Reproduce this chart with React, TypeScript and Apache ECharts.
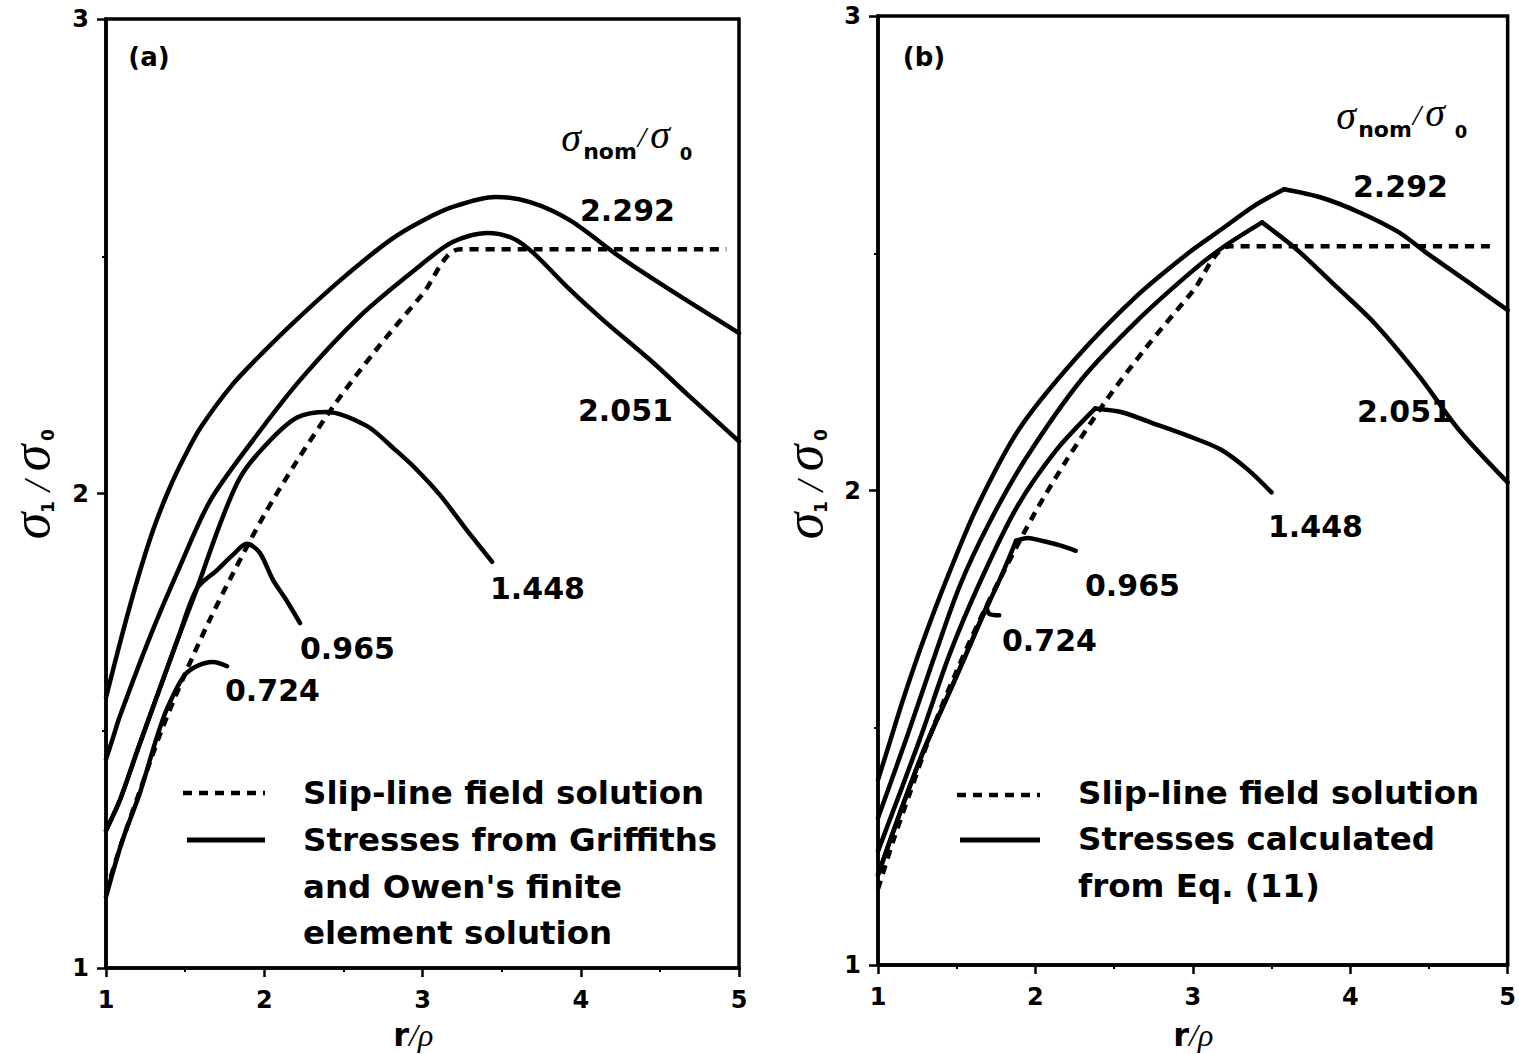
import React, { useEffect, useRef } from "react";
import * as echarts from "echarts";

// ---------- axis ticks ----------
const X_MIN = 1;
const X_MAX = 5;
const Y_MIN = 1;
const Y_MAX = 3;

// ---------- slip-line field solution (same in both panels) ----------
const SLIP_X = [1.0, 1.1, 1.2, 1.35, 1.5, 1.65, 1.8, 2.0, 2.2, 2.45, 2.7, 3.0, 3.24, 4.92];
const SLIP_Y = [1.16, 1.265, 1.36, 1.5, 1.62, 1.73, 1.83, 1.955, 2.065, 2.19, 2.3, 2.42, 2.515, 2.515];

// ---------- panel (a): Griffiths & Owen FE ----------
const A_2292_X = [1.0, 1.1, 1.2, 1.3, 1.4, 1.5, 1.6, 1.8, 2.0, 2.2, 2.5, 2.8, 3.0, 3.2, 3.46, 3.68, 3.93, 4.25, 4.56, 5.0];
const A_2292_Y = [1.57, 1.7, 1.82, 1.925, 2.01, 2.08, 2.14, 2.23, 2.3, 2.365, 2.455, 2.535, 2.575, 2.605, 2.625, 2.614, 2.576, 2.498, 2.43, 2.338];

const A_2051_X = [1.0, 1.044, 1.088, 1.278, 1.468, 1.657, 1.91, 2.226, 2.605, 2.984, 3.19, 3.41, 3.57, 3.7, 3.93, 4.14, 4.46, 4.67, 5.0];
const A_2051_Y = [1.44, 1.485, 1.531, 1.698, 1.847, 1.984, 2.104, 2.239, 2.374, 2.48, 2.53, 2.549, 2.538, 2.507, 2.43, 2.366, 2.275, 2.21, 2.11];

const A_1448_X = [1.0, 1.088, 1.2, 1.33, 1.45, 1.575, 1.72, 1.85, 2.017, 2.207, 2.397, 2.65, 2.814, 2.94, 3.11, 3.27, 3.44];
const A_1448_Y = [1.29, 1.354, 1.46, 1.58, 1.69, 1.8, 1.935, 2.035, 2.105, 2.16, 2.172, 2.142, 2.096, 2.058, 1.997, 1.927, 1.856];

const A_0965_X = [1.0, 1.088, 1.2, 1.33, 1.45, 1.575, 1.7, 1.8, 1.89, 1.97, 2.055, 2.14, 2.226];
const A_0965_Y = [1.29, 1.354, 1.46, 1.58, 1.69, 1.8, 1.838, 1.87, 1.894, 1.876, 1.818, 1.775, 1.727];

const A_0724_X = [1.0, 1.1, 1.215, 1.322, 1.385, 1.487, 1.56, 1.676, 1.765];
const A_0724_Y = [1.15, 1.265, 1.37, 1.487, 1.546, 1.613, 1.634, 1.645, 1.636];

// ---------- panel (b): Eq. (11) ----------
const B_2292_X = [1.0, 1.08, 1.16, 1.284, 1.435, 1.625, 1.896, 2.256, 2.634, 2.97, 3.18, 3.39, 3.58, 3.81, 4.06, 4.31, 4.48, 4.75, 5.0];
const B_2292_Y = [1.39, 1.475, 1.56, 1.68, 1.812, 1.962, 2.129, 2.278, 2.407, 2.5, 2.55, 2.6, 2.635, 2.618, 2.586, 2.544, 2.502, 2.439, 2.38];

const B_2051_X = [1.0, 1.183, 1.347, 1.517, 1.707, 1.94, 2.293, 2.634, 2.97, 3.18, 3.44, 3.66, 3.91, 4.15, 4.44, 4.69, 5.0];
const B_2051_Y = [1.31, 1.48, 1.639, 1.797, 1.932, 2.068, 2.234, 2.354, 2.455, 2.51, 2.565, 2.508, 2.43, 2.354, 2.24, 2.128, 2.017];

const B_1448_X = [1.0, 1.265, 1.454, 1.644, 1.877, 2.13, 2.38, 2.55, 2.735, 2.97, 3.18, 3.35, 3.5];
const B_1448_Y = [1.24, 1.475, 1.654, 1.804, 1.962, 2.084, 2.173, 2.165, 2.143, 2.115, 2.086, 2.044, 1.996];

const B_0965_X = [1.0, 1.15, 1.3, 1.454, 1.56, 1.644, 1.707, 1.79, 1.877, 1.95, 2.04, 2.15, 2.256];
const B_0965_Y = [1.19, 1.33, 1.46, 1.575, 1.655, 1.72, 1.765, 1.825, 1.894, 1.9, 1.894, 1.885, 1.873];

const B_0724_X = [1.0, 1.15, 1.3, 1.454, 1.56, 1.644, 1.69, 1.707, 1.77];
const B_0724_Y = [1.19, 1.33, 1.46, 1.575, 1.655, 1.72, 1.755, 1.74, 1.737];

// index of the sharp corner (peak) in each panel-(b) curve
const B_CORNERS = { c2292: 12, c2051: 10, c1448: 6, c0965: 8, c0724: 6 };

// ---------- curve labels ----------
const NOM_LABELS = ["2.292", "2.051", "1.448", "0.965", "0.724"];

const zip = (xs: number[], ys: number[]) => xs.map((x, i) => [x, ys[i]]);

const BOLD = '"DejaVu Sans"';
const SERIF = '"Liberation Serif"';

function txt(x: number, y: number, text: string, size: number, align = "left", font?: string) {
  return {
    type: "text",
    x,
    y,
    silent: true,
    z: 10,
    style: {
      text,
      fill: "#000",
      font: font || `bold ${size}px ${BOLD}`,
      textAlign: align,
      textVerticalAlign: "middle",
    },
  };
}

function sigma(x: number, y: number, size: number) {
  return txt(x, y, "σ", size, "center", `italic ${size}px ${SERIF}`);
}

function sigmaNom(cx: number, cy: number) {
  return [
    sigma(cx, cy - 3, 40),
    txt(cx + 39, cy + 11.5, "nom", 22, "center"),
    txt(cx + 71, cy - 4, "/", 30, "center", `italic 30px ${SERIF}`),
    sigma(cx + 89, cy - 6, 40),
    txt(cx + 115, cy + 13, "0", 18, "center"),
  ];
}

function yName(gx: number, gy: number) {
  return {
    type: "group",
    x: gx,
    y: gy,
    rotation: Math.PI / 2,
    silent: true,
    children: [
      txt(14, -9, "σ", 54, "center", `italic 54px ${SERIF}`),
      txt(33, 8, "1", 17, "center"),
      txt(54, -3, "/", 38, "center", `italic 38px ${SERIF}`),
      txt(82, -9, "σ", 54, "center", `italic 54px ${SERIF}`),
      txt(105, 8, "0", 17, "center"),
    ],
  };
}

function xName(cx: number, cy: number) {
  return [
    txt(cx - 6, cy, "r", 32, "right"),
    txt(cx - 6, cy, "/ρ", 32, "left", `italic 32px ${SERIF}`),
  ];
}

function legendLine(x1: number, x2: number, y: number, dashed: boolean) {
  return {
    type: "line",
    silent: true,
    shape: { x1, y1: y, x2, y2: y },
    style: {
      stroke: "#000",
      lineWidth: dashed ? 4.5 : 5,
      lineDash: dashed ? [9, 7] : null,
    },
  };
}

function axisPair(grid: number) {
  const label = { color: "#000", fontFamily: "DejaVu Sans", fontWeight: "bold", fontSize: 24 };
  const common = {
    gridIndex: grid,
    type: "value",
    axisLine: { show: true, onZero: false, lineStyle: { color: "#000", width: 3.5 } },
    axisTick: { show: true, length: 9, lineStyle: { color: "#000", width: 2.5 } },
    minorTick: { show: true, splitNumber: 2, length: 4, lineStyle: { color: "#000", width: 2 } },
    splitLine: { show: false },
    minorSplitLine: { show: false },
  };
  return {
    x: { ...common, min: X_MIN, max: X_MAX, interval: 1, axisLabel: { ...label, margin: 20 } },
    y: { ...common, min: Y_MIN, max: Y_MAX, interval: 1, axisLabel: { ...label, margin: 17 } },
  };
}

function solid(data: number[][], grid: number, smooth: number | boolean) {
  return {
    type: "line",
    xAxisIndex: grid,
    yAxisIndex: grid,
    data,
    symbol: "none",
    smooth,
    silent: true,
    z: 3,
    lineStyle: { color: "#000", width: 4.5, cap: "round", join: "round" },
  };
}

// a panel-(b) curve drawn as two smooth pieces that meet at a sharp corner
function cornered(xs: number[], ys: number[], k: number, grid: number) {
  const d = zip(xs, ys);
  return [solid(d.slice(0, k + 1), grid, 0.3), solid(d.slice(k), grid, 0.3)];
}

function dashed(grid: number) {
  return {
    type: "line",
    xAxisIndex: grid,
    yAxisIndex: grid,
    data: zip(SLIP_X, SLIP_Y),
    symbol: "none",
    smooth: 0.3,
    silent: true,
    z: 2,
    lineStyle: { color: "#000", width: 4.5, type: [9, 7] },
  };
}

export default function App() {
  const ref = useRef<HTMLDivElement>(null);

  useEffect(() => {
    document.body.style.margin = "0";
    const chart = echarts.init(ref.current!, null, { renderer: "svg" });
    const a = axisPair(0);
    const b = axisPair(1);
    const option = {
      animation: false,
      backgroundColor: "#fff",
      grid: [
        { left: 106, top: 19, width: 633, height: 949, show: true, borderColor: "#000", borderWidth: 3.5, backgroundColor: "transparent" },
        { left: 878, top: 16, width: 634, height: 949, show: true, borderColor: "#000", borderWidth: 3.5, backgroundColor: "transparent" },
      ],
      xAxis: [a.x, b.x],
      yAxis: [a.y, b.y],
      series: [
        dashed(0),
        solid(zip(A_2292_X, A_2292_Y), 0, 0.3),
        solid(zip(A_2051_X, A_2051_Y), 0, 0.3),
        solid(zip(A_1448_X, A_1448_Y), 0, 0.3),
        solid(zip(A_0965_X, A_0965_Y), 0, 0.3),
        solid(zip(A_0724_X, A_0724_Y), 0, 0.3),
        dashed(1),
        ...cornered(B_2292_X, B_2292_Y, B_CORNERS.c2292, 1),
        ...cornered(B_2051_X, B_2051_Y, B_CORNERS.c2051, 1),
        ...cornered(B_1448_X, B_1448_Y, B_CORNERS.c1448, 1),
        ...cornered(B_0965_X, B_0965_Y, B_CORNERS.c0965, 1),
        ...cornered(B_0724_X, B_0724_Y, B_CORNERS.c0724, 1),
      ],
      graphic: {
        elements: [
          // panel (a)
          txt(149, 57, "(a)", 26, "center"),
          ...sigmaNom(571, 140),
          txt(580, 210, NOM_LABELS[0], 30),
          txt(578, 410, NOM_LABELS[1], 30),
          txt(490, 588, NOM_LABELS[2], 30),
          txt(300, 648, NOM_LABELS[3], 30),
          txt(225, 690, NOM_LABELS[4], 30),
          legendLine(183, 265, 793, true),
          legendLine(187, 265, 840, false),
          txt(303, 793, "Slip-line field solution", 32.5),
          txt(303, 840, "Stresses from Griffiths", 32.5),
          txt(303, 887, "and Owen's finite", 32.5),
          txt(303, 933, "element solution", 32.5),
          yName(40, 540),
          ...xName(415, 1035),
          // panel (b)
          txt(924, 57, "(b)", 26, "center"),
          ...sigmaNom(1346, 118),
          txt(1353, 186, NOM_LABELS[0], 30),
          txt(1357, 411, NOM_LABELS[1], 30),
          txt(1268, 526, NOM_LABELS[2], 30),
          txt(1085, 585, NOM_LABELS[3], 30),
          txt(1002, 640, NOM_LABELS[4], 30),
          legendLine(957, 1040, 795, true),
          legendLine(960, 1040, 840, false),
          txt(1078, 793, "Slip-line field solution", 32.5),
          txt(1078, 839, "Stresses calculated", 32.5),
          txt(1078, 886, "from Eq. (11)", 32.5),
          yName(813, 540),
          ...xName(1195, 1035),
        ],
      },
    };
    chart.setOption(option as any);
    return () => chart.dispose();
  }, []);

  return (
    <div
      ref={ref}
      style={{ position: "absolute", left: 0, top: 0, width: 1519, height: 1054, background: "#fff" }}
    />
  );
}
